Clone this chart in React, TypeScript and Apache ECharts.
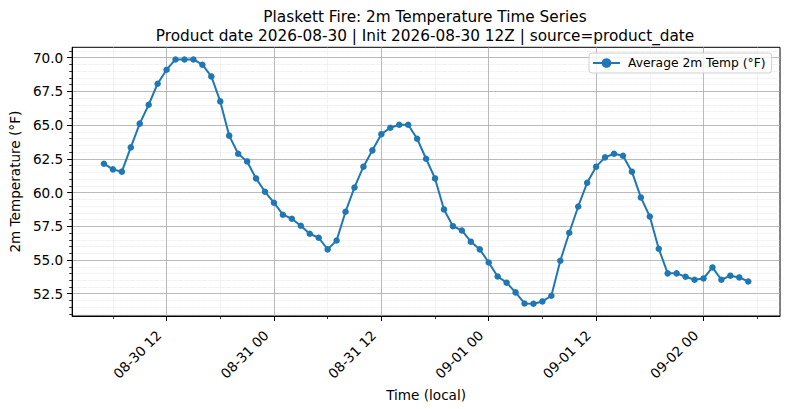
import React, { useEffect, useRef } from 'react';
import * as echarts from 'echarts';

// hours since 2026-08-30 00:00 local
const hours = [
  5, 6, 7, 8, 9, 10, 11, 12, 13, 14, 15, 16, 17, 18, 19, 20, 21, 22, 23, 24,
  25, 26, 27, 28, 29, 30, 31, 32, 33, 34, 35, 36, 37, 38, 39, 40, 41, 42, 43, 44,
  45, 46, 47, 48, 49, 50, 51, 52, 53, 54, 55, 56, 57, 58, 59, 60, 61, 62, 63, 64,
  65, 66, 67, 68, 69, 70, 71, 72, 73, 74, 75, 76, 77,
];

const temps = [
  62.14, 61.72, 61.55, 63.35, 65.11, 66.51, 68.07, 69.11, 69.87, 69.87,
  69.87, 69.48, 68.61, 66.76, 64.22, 62.88, 62.31, 61.05, 60.06, 59.25,
  58.36, 58.06, 57.54, 56.95, 56.65, 55.79, 56.45, 58.58, 60.38, 61.92,
  63.13, 64.33, 64.81, 65.03, 65.03, 63.99, 62.51, 61.05, 58.75, 57.51,
  57.19, 56.36, 55.79, 54.82, 53.78, 53.32, 52.6, 51.78, 51.76, 51.93,
  52.35, 54.95, 57.02, 58.97, 60.73, 61.92, 62.61, 62.88, 62.73, 61.55,
  59.64, 58.23, 55.84, 54.01, 54.01, 53.76, 53.54, 53.63, 54.45, 53.54,
  53.84, 53.71, 53.41,
];

const xMajorTicks = [12, 24, 36, 48, 60, 72];
const xMajorLabels = ['08-30 12', '08-31 00', '08-31 12', '09-01 00', '09-01 12', '09-02 00'];
const xMinorTicks = [6, 18, 30, 42, 54, 66, 78];

const yMajorTicks = [52.5, 55, 57.5, 60, 62.5, 65, 67.5, 70];
const yMinorTicks = [
  51, 51.5, 52, 53, 53.5, 54, 54.5, 55.5, 56, 56.5, 57, 58, 58.5, 59, 59.5,
  60.5, 61, 61.5, 62, 63, 63.5, 64, 64.5, 65.5, 66, 66.5, 67, 68, 68.5, 69,
  69.5, 70.5,
];

const FONT = 'DejaVu Sans';

const App = () => {
  const chartRef = useRef<HTMLDivElement>(null);

  useEffect(() => {
    if (!chartRef.current) return;
    const chart = echarts.init(chartRef.current, undefined, { renderer: 'svg' });

    const xMin = 1.45;
    const xMax = 80.55;
    const yMin = 50.85;
    const yMax = 70.77;

    const majorGrid = { show: true, lineStyle: { color: '#a8a8a8', width: 0.8, type: 'solid' as const } };
    const minorGrid = { show: true, lineStyle: { color: '#d6d6d6', width: 0.6, type: 'dotted' as const } };

    chart.setOption({
      animation: false,
      title: {
        text: 'Plaskett Fire: 2m Temperature Time Series\nProduct date 2026-08-30 | Init 2026-08-30 12Z | source=product_date',
        left: 425,
        top: 7,
        padding: 0,
        textAlign: 'center',
        textStyle: {
          fontFamily: FONT,
          fontSize: 15.3,
          fontWeight: 'normal',
          color: '#000',
          lineHeight: 19,
        },
      },
      legend: {
        left: 589,
        top: 53,
        padding: [4, 6, 4, 3],
        itemWidth: 27,
        itemHeight: 12,
        borderColor: '#d0d0d0',
        borderWidth: 1,
        borderRadius: 3,
        backgroundColor: 'rgba(255,255,255,0.8)',
        textStyle: { fontFamily: FONT, fontSize: 12.3, color: '#000', padding: [0, 0, 0, 3] },
        data: ['Average 2m Temp (°F)'],
      },
      grid: {
        left: 70.7,
        top: 47.3,
        width: 709.3,
        height: 268.7,
        show: true,
        borderColor: '#000',
        borderWidth: 1,
        backgroundColor: 'transparent',
      },
      xAxis: [
        {
          type: 'value',
          min: xMin,
          max: xMax,
          position: 'bottom',
          axisLine: { show: true, lineStyle: { color: '#000', width: 1 } },
          axisTick: { show: true, length: 5, customValues: xMajorTicks, lineStyle: { color: '#000', width: 1 } },
          axisLabel: {
            customValues: xMajorTicks,
            rotate: 45,
            margin: 9,
            padding: [0, 11, 0, 0],
            fontFamily: FONT,
            fontSize: 13.6,
            color: '#000',
            formatter: (v: number) => {
              const i = xMajorTicks.findIndex((t) => Math.abs(t - v) < 1e-6);
              return i >= 0 ? xMajorLabels[i] : '';
            },
          },
          splitLine: majorGrid,
          name: 'Time (local)',
          nameLocation: 'middle',
          nameGap: 65,
          nameTextStyle: { fontFamily: FONT, fontSize: 13.6, color: '#000' },
        },
        {
          type: 'value',
          min: xMin,
          max: xMax,
          position: 'bottom',
          axisLine: { show: false },
          axisTick: { show: true, length: 3, customValues: xMinorTicks, lineStyle: { color: '#000', width: 0.8 } },
          axisLabel: { show: false },
          splitLine: minorGrid,
        },
      ],
      yAxis: [
        {
          type: 'value',
          min: yMin,
          max: yMax,
          position: 'left',
          axisLine: { show: true, lineStyle: { color: '#000', width: 1 } },
          axisTick: { show: true, length: 5, customValues: yMajorTicks, lineStyle: { color: '#000', width: 1 } },
          axisLabel: {
            customValues: yMajorTicks,
            margin: 9,
            fontFamily: FONT,
            fontSize: 13.6,
            color: '#000',
            formatter: (v: number) => v.toFixed(1),
          },
          splitLine: majorGrid,
          name: '2m Temperature (°F)',
          nameLocation: 'middle',
          nameRotate: 90,
          nameGap: 47,
          nameTextStyle: { fontFamily: FONT, fontSize: 13.6, color: '#000' },
        },
        {
          type: 'value',
          min: yMin,
          max: yMax,
          position: 'left',
          axisLine: { show: false },
          axisTick: { show: true, length: 3, customValues: yMinorTicks, lineStyle: { color: '#000', width: 0.8 } },
          axisLabel: { show: false },
          splitLine: minorGrid,
        },
      ],
      series: [
        {
          name: 'Average 2m Temp (°F)',
          type: 'line',
          data: hours.map((h, i) => [h, temps[i]]),
          symbol: 'circle',
          symbolSize: 6.5,
          showSymbol: true,
          color: '#1f77b4',
          lineStyle: { color: '#1f77b4', width: 2 },
          itemStyle: { color: '#1f77b4' },
          z: 5,
        },
      ],
    });

    return () => {
      chart.dispose();
    };
  }, []);

  return (
    <div
      ref={chartRef}
      style={{ position: 'fixed', left: 0, top: 0, width: '790px', height: '409px', background: '#fff' }}
    ></div>
  );
};

export default App;
